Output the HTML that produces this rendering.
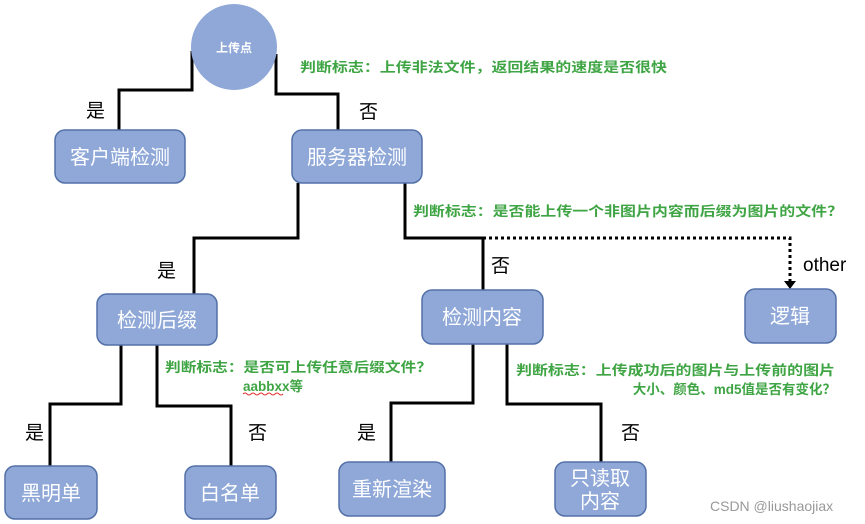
<!DOCTYPE html>
<html><head><meta charset="utf-8"><style>
html,body{margin:0;padding:0;background:#fff;}
svg{display:block;}
.g{fill:#3fa544;font-weight:bold;font-size:13.5px;font-family:"Liberation Sans","Noto Sans CJK SC",sans-serif;}
.b{fill:#fff;font-size:20px;font-family:"Liberation Sans","Noto Sans CJK SC",sans-serif;}
.l{fill:#000;font-size:19px;font-family:"Liberation Sans","Noto Sans CJK SC",sans-serif;}
rect.n{fill:#8fa8d8;stroke:#5371a8;stroke-width:1.5;}
path.c{fill:none;stroke:#000;stroke-width:3;}
</style></head><body>
<svg width="865" height="524" viewBox="0 0 865 524" xmlns="http://www.w3.org/2000/svg">
<!-- connectors -->
<path class="c" d="M192,51 V90 H119 V130"/>
<path class="c" d="M276,54 V94 H338 V134"/>
<path class="c" d="M298,183 V238 H194 V294"/>
<path class="c" d="M405,183 V238 H483 V290"/>
<path d="M483,238 H790 V282" fill="none" stroke="#000" stroke-width="3" stroke-dasharray="3,3"/>
<polygon points="784,281 796,281 790,289" fill="#000"/>
<path class="c" d="M121,345 V404 H50 V466"/>
<path class="c" d="M157,345 V406 H231 V466"/>
<path class="c" d="M473,344 V403 H391 V462"/>
<path class="c" d="M507,344 V404 H601 V462"/>
<!-- circle -->
<circle cx="234" cy="47" r="43" fill="#8fa8d8"/>
<text x="234" y="52" text-anchor="middle" style="fill:#fff;font-weight:bold;font-size:12px;font-family:'Liberation Sans','Noto Sans CJK SC',sans-serif">上传点</text>
<!-- boxes -->
<rect class="n" x="55" y="130" width="130" height="53" rx="10"/>
<text class="b" x="120" y="164" text-anchor="middle">客户端检测</text>
<rect class="n" x="292" y="130" width="130" height="53" rx="10"/>
<text class="b" x="357" y="164" text-anchor="middle">服务器检测</text>
<rect class="n" x="97" y="294" width="120" height="51" rx="10"/>
<text class="b" x="157" y="327" text-anchor="middle">检测后缀</text>
<rect class="n" x="422" y="290" width="121" height="54" rx="10"/>
<text class="b" x="482" y="324" text-anchor="middle">检测内容</text>
<rect class="n" x="745" y="289" width="91" height="54" rx="10"/>
<text class="b" x="790" y="323" text-anchor="middle">逻辑</text>
<rect class="n" x="5" y="466" width="92" height="53" rx="10"/>
<text class="b" x="51" y="500" text-anchor="middle">黑明单</text>
<rect class="n" x="185" y="466" width="91" height="53" rx="10"/>
<text class="b" x="230" y="500" text-anchor="middle">白名单</text>
<rect class="n" x="339" y="462" width="106" height="54" rx="10"/>
<text class="b" x="392" y="496" text-anchor="middle">重新渲染</text>
<rect class="n" x="555" y="462" width="91" height="54" rx="10"/>
<text class="b" x="600" y="485" text-anchor="middle">只读取</text>
<text class="b" x="600" y="508" text-anchor="middle">内容</text>
<!-- yes/no labels -->
<text class="l" x="86" y="117">是</text>
<text class="l" x="359" y="118">否</text>
<text class="l" x="157" y="277">是</text>
<text class="l" x="491" y="272">否</text>
<text class="l" x="25" y="439">是</text>
<text class="l" x="248" y="439">否</text>
<text class="l" x="357" y="439">是</text>
<text class="l" x="621" y="439">否</text>
<text class="l" x="803" y="271">other</text>
<!-- green notes -->
<text class="g" x="300" y="72" textLength="367" lengthAdjust="spacingAndGlyphs">判断标志：上传非法文件，返回结果的速度是否很快</text>
<text class="g" x="413" y="216" textLength="430" lengthAdjust="spacingAndGlyphs">判断标志：是否能上传一个非图片内容而后缀为图片的文件？</text>
<text class="g" x="165" y="372" textLength="267" lengthAdjust="spacingAndGlyphs">判断标志：是否可上传任意后缀文件？</text>
<text class="g" x="243" y="391">aabbxx等</text>
<path d="M243,394 q2,-2 4,0 t4,0 t4,0 t4,0 t4,0 t4,0 t4,0 t4,0 t4,0 t4,0" fill="none" stroke="#e03030" stroke-width="1"/>
<text class="g" x="516" y="375" textLength="319" lengthAdjust="spacingAndGlyphs">判断标志：上传成功后的图片与上传前的图片</text>
<text class="g" x="836" y="394" text-anchor="end">大小、颜色、md5值是否有变化？</text>
<text x="710" y="511" style="fill:#999;font-size:14px;font-family:'Liberation Sans',sans-serif">CSDN @liushaojiax</text>
</svg>
</body></html>
